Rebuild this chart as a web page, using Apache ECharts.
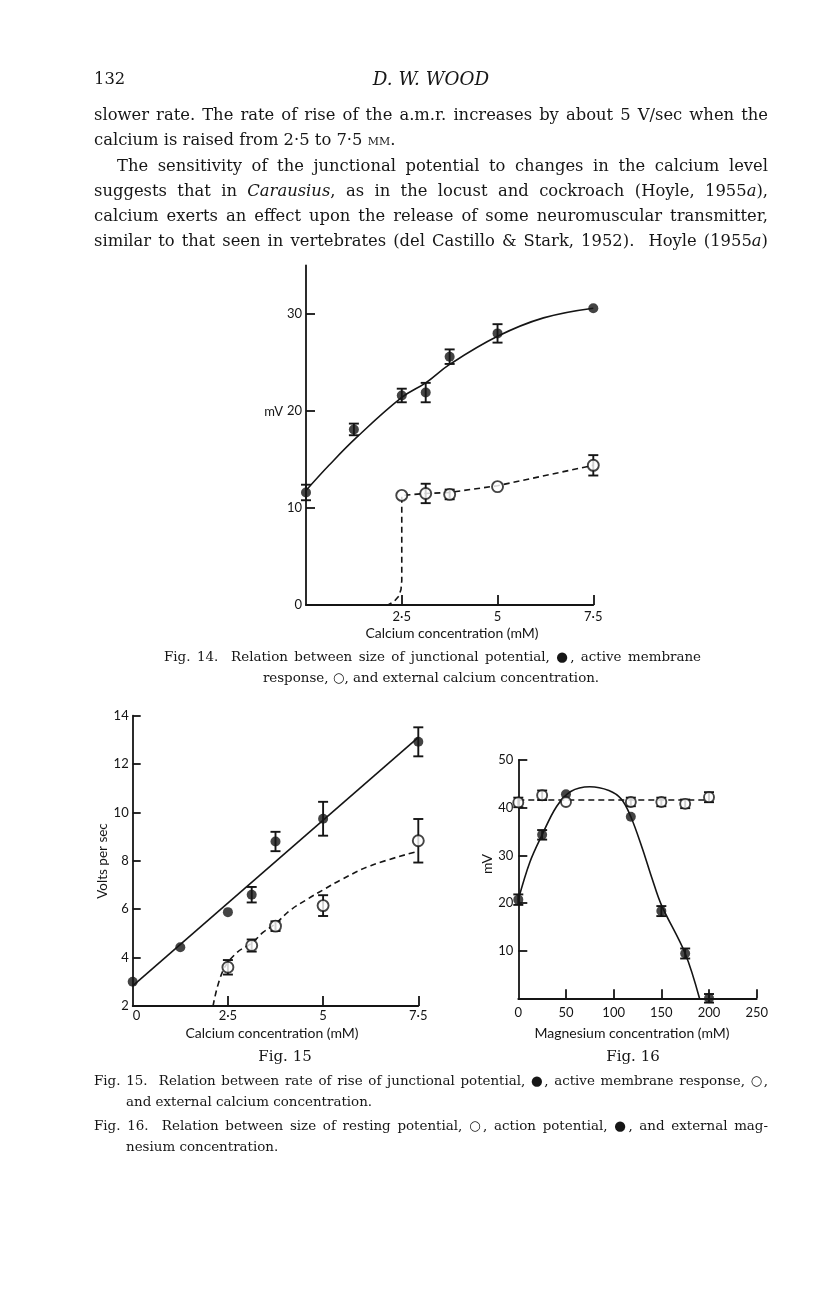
<!DOCTYPE html>
<html>
<head>
<meta charset="utf-8">
<script src="https://cdn.jsdelivr.net/npm/echarts@6.0.0/dist/echarts.min.js"></script>
<style>
  html, body { margin: 0; padding: 0; background: #fff; }
  #page { position: relative; width: 816px; height: 1296px; overflow: hidden; background: #fff; }
  #chart { position: absolute; left: 0; top: 0; width: 816px; height: 1296px; }
  .t { position: absolute; font-family: 'DejaVu Serif', serif; color: #161616; line-height: 24px; height: 24px; white-space: nowrap; }
  .body { font-size: 16px; }
  .cap { font-size: 13.5px; }
  .j { text-align: justify; text-align-last: justify; }
  .sc { font-variant: small-caps; }
</style>
</head>
<body>
<div id="page">
  <div id="chart"></div>
  <div class="t head" style="left:94px; top:67px;">132</div>
  <div class="t head" style="left:311px; top:67px; width:240px; text-align:center; font-style:italic;">D. W. WOOD</div>

  <div class="t body j" style="left:94px; top:103px; width:674px;">slower rate. The rate of rise of the a.m.r. increases by about 5 V/sec when the</div>
  <div class="t body" style="left:94px; top:128px;">calcium is raised from 2·5 to 7·5 <span class="sc">mm</span>.</div>
  <div class="t body j" style="left:117px; top:154px; width:651px;">The sensitivity of the junctional potential to changes in the calcium level</div>
  <div class="t body j" style="left:94px; top:179px; width:674px;">suggests that in <i>Carausius</i>, as in the locust and cockroach (Hoyle, 1955<i>a</i>),</div>
  <div class="t body j" style="left:94px; top:204px; width:674px;">calcium exerts an effect upon the release of some neuromuscular transmitter,</div>
  <div class="t body j" style="left:94px; top:229px; width:674px;">similar to that seen in vertebrates (del Castillo &amp; Stark, 1952).&nbsp; Hoyle (1955<i>a</i>)</div>

  <div class="t cap j" style="left:164px; top:645px; width:537px;">Fig. 14.&nbsp; Relation between size of junctional potential, ●, active membrane</div>
  <div class="t cap" style="left:211px; top:666px; width:440px; text-align:center;">response, ○, and external calcium concentration.</div>

  <div class="t cap j" style="left:94px; top:1069px; width:674px;">Fig. 15.&nbsp; Relation between rate of rise of junctional potential, ●, active membrane response, ○,</div>
  <div class="t cap" style="left:126px; top:1090px;">and external calcium concentration.</div>
  <div class="t cap j" style="left:94px; top:1114px; width:674px;">Fig. 16.&nbsp; Relation between size of resting potential, ○, action potential, ●, and external mag-</div>
  <div class="t cap" style="left:126px; top:1135px;">nesium concentration.</div>
</div>
<script>
// ---------------- Fig. 14 data (mV vs calcium mM) ----------------
const f14X = [0, 1.25, 2.5, 3.125, 3.75, 5, 7.5];
const f14Junction = [11.6, 18.1, 21.6, 21.9, 25.6, 28.0, 30.6];
const f14JunctionErr = [0.8, 0.6, 0.7, 1.0, 0.75, 0.95, null];
const f14AmrX = [2.5, 3.125, 3.75, 5, 7.5];
const f14Amr = [11.3, 11.5, 11.4, 12.2, 14.4];
const f14AmrErr = [null, 1.0, 0.5, null, 1.05];
const f14JunctionCurveX = [0, 0.6, 1.3, 2.5, 3.125, 3.75, 5, 6.2, 7.5];
const f14JunctionCurveY = [11.8, 14.4, 17.2, 21.4, 22.9, 24.8, 27.7, 29.6, 30.6];
const f14AmrCurveX = [0, 2.14, 2.3, 2.42, 2.48, 2.5, 2.5, 3.125, 3.75, 5, 7.5];
const f14AmrCurveY = [0, 0, 0.35, 0.9, 1.6, 2.5, 11.3, 11.5, 11.6, 12.3, 14.4];
const f14XTicks = [2.5, 5, 7.5];
const f14YTicks = [10, 20, 30];
const f14YLabels = [0, 10, 20, 30];

// ---------------- Fig. 15 data (Volts per sec vs calcium mM) ----------------
const f15X = [0, 1.25, 2.5, 3.125, 3.75, 5, 7.5];
const f15Junction = [3.0, 4.43, 5.88, 6.6, 8.8, 9.74, 12.92];
const f15JunctionErr = [null, null, null, 0.32, 0.4, 0.7, 0.6];
const f15AmrX = [2.5, 3.125, 3.75, 5, 7.5];
const f15Amr = [3.6, 4.5, 5.3, 6.15, 8.83];
const f15AmrErr = [0.3, 0.25, 0.2, 0.43, 0.9];
const f15JunctionLineX = [0, 7.5];
const f15JunctionLineY = [2.83, 13.1];
const f15AmrCurveX = [2.11, 2.36, 2.73, 3.125, 3.43, 3.75, 4.13, 4.57, 5, 5.45, 6.25, 7.5];
const f15AmrCurveY = [2.0, 3.42, 4.2, 4.6, 5.05, 5.4, 5.95, 6.4, 6.8, 7.2, 7.8, 8.4];
const f15XTicks = [2.5, 5, 7.5];
const f15XLabels = [0, 2.5, 5, 7.5];
const f15YTicks = [4, 6, 8, 10, 12, 14];
const f15YLabels = [2, 4, 6, 8, 10, 12, 14];

// ---------------- Fig. 16 data (mV vs magnesium mM) ----------------
const f16X = [0, 25, 50, 118, 150, 175, 200];
const f16Action = [20.7, 34.3, 42.8, 38.1, 18.3, 9.4, 0];
const f16ActionErr = [1.1, 1.0, null, null, 1.05, 1.05, 0.9];
const f16Rest = [41.1, 42.6, 41.2, 41.2, 41.2, 40.8, 42.2];
const f16RestErr = [1.0, 1.0, null, 0.9, 0.9, 0.9, 1.05];
const f16ActionCurveX = [0, 12, 25, 40, 55, 75, 95, 108, 118, 130, 140, 150, 175, 190];
const f16ActionCurveY = [20.7, 28.5, 34.3, 40.2, 43.4, 44.4, 43.6, 41.8, 38.1, 31.5, 25.3, 19.6, 9.4, 0];
const f16RestLineX = [0, 200];
const f16RestLineY = [41.6, 41.6];
const f16XTicks = [50, 100, 150, 200, 250];
const f16XLabels = [0, 50, 100, 150, 200, 250];
const f16YTicks = [10, 20, 30, 40, 50];
const f16YLabels = [10, 20, 30, 40, 50];

// ---------------- text fitting (layout only) ----------------
function fitGroup(sel, ratio) {
  const els = Array.from(document.querySelectorAll(sel));
  let best = Infinity;
  els.forEach(el => {
    if (!el.classList.contains('j')) return;
    const probe = document.createElement('span');
    probe.innerHTML = el.innerHTML;
    probe.style.cssText = 'position:absolute;left:0;top:0;visibility:hidden;white-space:nowrap;font-family:"DejaVu Serif";font-size:20px;';
    document.body.appendChild(probe);
    const w = probe.getBoundingClientRect().width;
    probe.remove();
    best = Math.min(best, 20 * parseFloat(el.style.width) * ratio / w);
  });
  els.forEach(el => { el.style.fontSize = best.toFixed(2) + 'px'; });
  return best;
}
const bodySize = fitGroup('.body', 0.965);
fitGroup('.cap', 0.965);
document.querySelectorAll('.head').forEach((el, i) => { el.style.fontSize = (bodySize * (i ? 1.12 : 1.0)).toFixed(2) + 'px'; });

// ---------------- helpers ----------------
const INK = '#151515';
const pairs = (xs, ys) => xs.map((x, i) => [x, ys[i]]);
const errData = (xs, ys, es) => {
  const out = [];
  xs.forEach((x, i) => { if (es[i] != null) out.push([x, ys[i] - es[i], ys[i] + es[i]]); });
  return out;
};
const fmt = v => String(v).replace('.', '·');

function axis(idx, min, max, ticks, labels, opts) {
  opts = opts || {};
  return {
    type: 'value', gridIndex: idx, min: min, max: max,
    splitLine: { show: false },
    axisLine: { show: true, onZero: false, lineStyle: { color: INK, width: 1.8 } },
    axisTick: { show: true, inside: true, length: opts.tickLen || 9, customValues: ticks, lineStyle: { color: INK, width: 1.8 } },
    axisLabel: {
      customValues: labels, formatter: fmt, color: INK,
      fontFamily: 'Lato', fontSize: 13, margin: opts.margin == null ? 5 : opts.margin,
      alignMinLabel: opts.alignMin
    }
  };
}

function errSeries(idx, data, cap) {
  return {
    type: 'custom', xAxisIndex: idx, yAxisIndex: idx, data: data, z: 3, silent: true, clip: false,
    encode: { x: 0, y: [1, 2] },
    renderItem: function (params, api) {
      const x = api.value(0);
      const lo = api.coord([x, api.value(1)]);
      const hi = api.coord([x, api.value(2)]);
      const st = { stroke: INK, lineWidth: 1.9 };
      return { type: 'group', children: [
        { type: 'line', shape: { x1: lo[0], y1: lo[1], x2: hi[0], y2: hi[1] }, style: st },
        { type: 'line', shape: { x1: hi[0] - cap, y1: hi[1], x2: hi[0] + cap, y2: hi[1] }, style: st },
        { type: 'line', shape: { x1: lo[0] - cap, y1: lo[1], x2: lo[0] + cap, y2: lo[1] }, style: st }
      ] };
    }
  };
}

function curve(idx, data, dashed, smooth) {
  return {
    type: 'line', xAxisIndex: idx, yAxisIndex: idx, data: data, smooth: smooth,
    symbol: 'none', showSymbol: false, silent: true, z: 2, clip: false,
    lineStyle: { color: INK, width: 1.6, type: dashed ? [6, 4] : 'solid' }
  };
}

function dots(idx, data, open, size) {
  return {
    type: 'scatter', xAxisIndex: idx, yAxisIndex: idx, data: data, symbol: 'circle',
    symbolSize: size, z: 4, silent: true, clip: false,
    itemStyle: open ? { color: '#fff', borderColor: INK, borderWidth: 1.9 } : { color: INK }
  };
}

function label(x, y, text, font, rot, align) {
  return {
    type: 'text', x: x, y: y, rotation: rot || 0, silent: true,
    style: { text: text, font: font, fill: INK, align: align || 'center', verticalAlign: 'middle' }
  };
}

const chart = echarts.init(document.getElementById('chart'), null, { renderer: 'canvas', width: 816, height: 1296 });

const option = {
  animation: false,
  backgroundColor: 'transparent',
  grid: [
    { left: 306, top: 265.5, width: 287.3, height: 339.5 },
    { left: 132.7, top: 715.7, width: 285.6, height: 290.3 },
    { left: 518.3, top: 760, width: 238.4, height: 238.3 }
  ],
  xAxis: [
    axis(0, 0, 7.5, f14XTicks, f14XTicks, { tickLen: 10, margin: 5 }),
    axis(1, 0, 7.5, f15XTicks, f15XLabels, { tickLen: 10, margin: 3, alignMin: 'left' }),
    axis(2, 0, 250, f16XTicks, f16XLabels, { tickLen: 9, margin: 8 })
  ],
  yAxis: [
    axis(0, 0, 35, f14YTicks, f14YLabels, { tickLen: 9, margin: 4 }),
    axis(1, 2, 14, f15YTicks, f15YLabels, { tickLen: 8, margin: 4 }),
    axis(2, 0, 50, f16YTicks, f16YLabels, { tickLen: 9, margin: 5 })
  ],
  graphic: [
    label(283, 412, 'mV', '13px Lato', 0, 'right'),
    label(452, 633, 'Calcium concentration (mM)', '14px Lato'),
    label(103, 861, 'Volts per sec', '13.5px Lato', Math.PI / 2),
    label(272, 1033, 'Calcium concentration (mM)', '14px Lato'),
    label(285, 1057, 'Fig. 15', '15px "DejaVu Serif"'),
    label(487, 864, 'mV', '14px Lato', Math.PI / 2),
    label(632, 1033, 'Magnesium concentration (mM)', '14px Lato'),
    label(633, 1057, 'Fig. 16', '15px "DejaVu Serif"')
  ],
  series: [
    // Fig. 14
    curve(0, pairs(f14JunctionCurveX, f14JunctionCurveY), false, 0.4),
    curve(0, pairs(f14AmrCurveX, f14AmrCurveY), true, false),
    errSeries(0, errData(f14X, f14Junction, f14JunctionErr), 5),
    errSeries(0, errData(f14AmrX, f14Amr, f14AmrErr), 5),
    dots(0, pairs(f14X, f14Junction), false, 10),
    dots(0, pairs(f14AmrX, f14Amr), true, 11),
    // Fig. 15
    curve(1, pairs(f15JunctionLineX, f15JunctionLineY), false, false),
    curve(1, pairs(f15AmrCurveX, f15AmrCurveY), true, 0.4),
    errSeries(1, errData(f15X, f15Junction, f15JunctionErr), 5),
    errSeries(1, errData(f15AmrX, f15Amr, f15AmrErr), 5),
    dots(1, pairs(f15X, f15Junction), false, 10),
    dots(1, pairs(f15AmrX, f15Amr), true, 11),
    // Fig. 16
    curve(2, pairs(f16ActionCurveX, f16ActionCurveY), false, 0.35),
    curve(2, pairs(f16RestLineX, f16RestLineY), true, false),
    errSeries(2, errData(f16X, f16Action, f16ActionErr), 5),
    errSeries(2, errData(f16X, f16Rest, f16RestErr), 5),
    dots(2, pairs(f16X, f16Action), false, 10),
    dots(2, pairs(f16X, f16Rest), true, 10)
  ]
};
chart.setOption(option);
</script>
</body>
</html>
